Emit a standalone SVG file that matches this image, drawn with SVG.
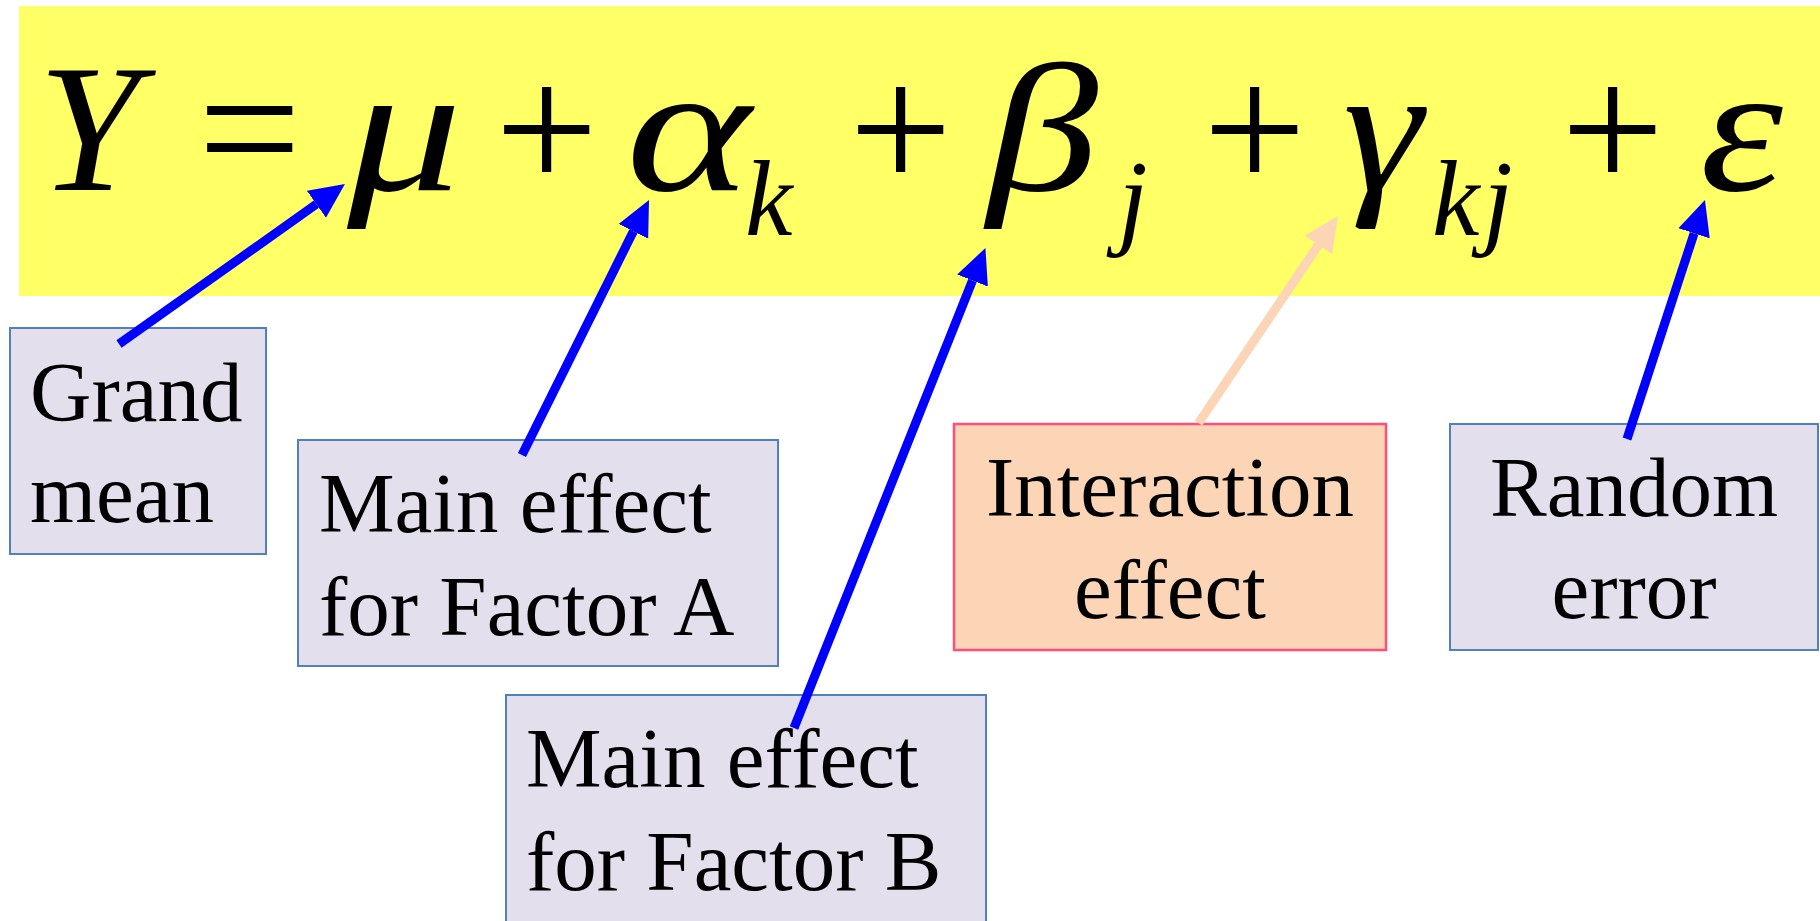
<svg xmlns="http://www.w3.org/2000/svg" width="1820" height="921" viewBox="0 0 1820 921">
<style>
.box{fill:#E4DFEC;stroke:#4F81BD;stroke-width:2}
.pbox{fill:#FBD5B5;stroke:#FF4F7B;stroke-width:2.5}
.lbl{font-family:"Liberation Serif","Times New Roman",serif;font-size:85px;fill:#000}
.eq{font-family:"Liberation Serif","Times New Roman",serif;font-size:183px;fill:#000}
.it{font-style:italic}
.sub{font-family:"Liberation Serif","Times New Roman",serif;font-size:107px;font-style:italic;fill:#000}
.blue{stroke:#0000FF;stroke-width:9;fill:none}
.peach{stroke:#FBD5B5;stroke-width:9;fill:none}
</style>
<defs>
<marker id="ab" viewBox="0 -17 35 34" refX="0" refY="0" markerWidth="35" markerHeight="34" markerUnits="userSpaceOnUse" orient="auto"><path d="M0,-16.5 L35,0 L0,16.5 z" fill="#0000FF"/></marker>
<marker id="ap" viewBox="0 -17 35 34" refX="0" refY="0" markerWidth="35" markerHeight="34" markerUnits="userSpaceOnUse" orient="auto"><path d="M0,-16.5 L35,0 L0,16.5 z" fill="#FBD5B5"/></marker>
</defs>
<rect x="0" y="0" width="1820" height="921" fill="#FFFFFF"/>
<g id="equation">
<rect x="19" y="6" width="1801" height="290" fill="#FFFF66"/>
<text class="eq it" x="38" y="190">Y</text>
<text class="eq" x="198" y="190">=</text>
<text class="eq it" transform="translate(347,190) scale(1.25,1)">μ</text>
<text class="eq" x="495" y="190">+</text>
<text class="eq it" transform="translate(626,190) scale(1.3,1)">α</text>
<text class="sub" x="745" y="235">k</text>
<text class="eq" x="849" y="190">+</text>
<text class="eq it" transform="translate(987,190) scale(1.22,1)">β</text>
<text class="sub" x="1118" y="235">j</text>
<text class="eq" x="1203" y="190">+</text>
<text class="eq it" transform="translate(1343,190) scale(1.1,1)">γ</text>
<text class="sub" x="1432" y="235">k</text>
<text class="sub" x="1483" y="235">j</text>
<text class="eq" x="1561" y="190">+</text>
<text class="eq it" transform="translate(1700,190) scale(1.15,1)">ε</text>
</g>
<g id="grand-mean">
<rect class="box" x="10" y="328" width="256" height="226"/>
<text class="lbl" x="30" y="421">Grand</text>
<text class="lbl" x="30" y="522">mean</text>
</g>
<g id="main-effect-a">
<rect class="box" x="298" y="440" width="480" height="226"/>
<text class="lbl" x="319" y="532">Main effect</text>
<text class="lbl" x="319" y="635">for Factor A</text>
</g>
<g id="main-effect-b">
<rect class="box" x="506" y="695" width="480" height="232"/>
<text class="lbl" x="526" y="787">Main effect</text>
<text class="lbl" x="526" y="890">for Factor B</text>
</g>
<g id="interaction">
<rect class="pbox" x="954" y="424" width="432" height="226"/>
<text class="lbl" x="1170" y="516" text-anchor="middle">Interaction</text>
<text class="lbl" x="1170" y="618" text-anchor="middle">effect</text>
</g>
<g id="random-error">
<rect class="box" x="1450" y="424" width="368" height="226"/>
<text class="lbl" x="1634" y="516" text-anchor="middle">Random</text>
<text class="lbl" x="1634" y="618" text-anchor="middle">error</text>
</g>
<g id="connectors">
<line class="blue" x1="119" y1="344" x2="316.4" y2="204.2" marker-end="url(#ab)"/>
<line class="blue" x1="522" y1="455" x2="633.4" y2="231.3" marker-end="url(#ab)"/>
<line class="blue" x1="794" y1="728" x2="972.5" y2="280.5" marker-end="url(#ab)"/>
<line class="peach" x1="1198.5" y1="423" x2="1318.4" y2="245" marker-end="url(#ap)"/>
<line class="blue" x1="1627" y1="439" x2="1694.1" y2="233.3" marker-end="url(#ab)"/>
</g>
</svg>
